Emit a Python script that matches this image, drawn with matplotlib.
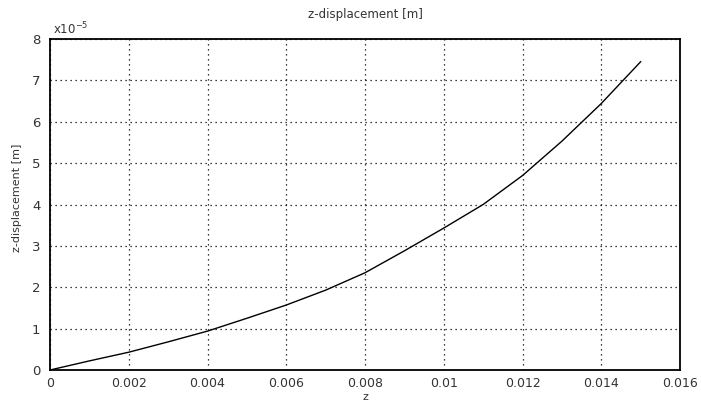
import matplotlib
matplotlib.use("Agg")
import matplotlib.pyplot as plt

# z position [m] and z-displacement [x1e-5 m]
z = [0, 0.001, 0.002, 0.003, 0.004, 0.005, 0.006, 0.007, 0.008,
     0.009, 0.010, 0.011, 0.012, 0.013, 0.014, 0.015]
disp = [0, 0.22, 0.43, 0.68, 0.94, 1.25, 1.57, 1.93, 2.35,
        2.88, 3.43, 4.0, 4.7, 5.53, 6.44, 7.45]

xticks = [0, 0.002, 0.004, 0.006, 0.008, 0.01, 0.012, 0.014, 0.016]
xticklabels = ['0', '0.002', '0.004', '0.006', '0.008', '0.01', '0.012', '0.014', '0.016']
yticks = [0, 1, 2, 3, 4, 5, 6, 7, 8]

fig = plt.figure(figsize=(7.01, 4.04), dpi=100)
ax = fig.add_axes([50/701, 1-370/404, 630/701, 331/404])

ax.plot(z, disp, color='black', lw=1.0)

ax.set_xlim(0, 0.016)
ax.set_ylim(0, 8)
ax.set_xticks(xticks)
ax.set_xticklabels(xticklabels)
ax.set_yticks(yticks)
ax.tick_params(length=0, labelsize=9.5, labelcolor='#333333', pad=7)
ax.tick_params(axis='x', labelsize=9, pad=5)
ax.grid(True, color='black', linestyle=(0, (1, 3)), lw=0.9)

for s in ax.spines.values():
    s.set_linewidth(1.3)
    s.set_color('black')

ax.set_title('z-displacement [m]', fontsize=8.5, color='#333333', pad=15)
ax.set_xlabel('z', fontsize=8, color='#333333')
ax.xaxis.label.set_va('center')
ax.xaxis.set_label_coords(0.5, -27/331)
ax.set_ylabel('z-displacement [m]', fontsize=8, color='#333333',
              family=['Liberation Sans Narrow', 'DejaVu Sans'])
ax.yaxis.label.set_va('center')
ax.yaxis.set_label_coords(-33/630, 0.52)
ax.text(0.005, 1.005, r'x10$^{\mathregular{-5}}$', transform=ax.transAxes,
        fontsize=8.5, color='#333333', ha='left', va='bottom')

fig.savefig('out.png', dpi=100)
